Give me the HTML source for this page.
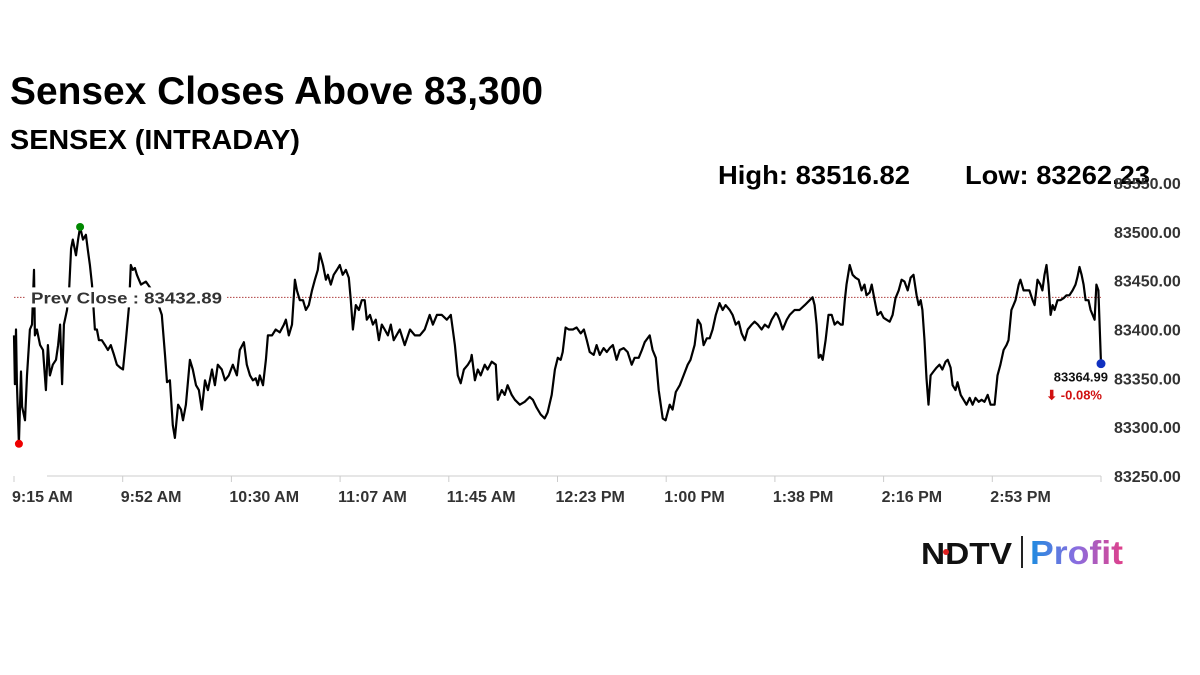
<!DOCTYPE html>
<html><head><meta charset="utf-8"><style>
body{margin:0;background:#fff;width:1200px;height:675px;overflow:hidden;font-family:"Liberation Sans",Arial,sans-serif}
svg{position:absolute;left:0;top:0}
</style></head><body>
<svg width="1200" height="675">
<defs><linearGradient id="pg" x1="0" x2="1"><stop offset="0" stop-color="#1e8ce0"/><stop offset="0.5" stop-color="#8a6de0"/><stop offset="1" stop-color="#e0408a"/></linearGradient></defs>
<text x="10" y="104" font-size="39" font-weight="bold" fill="#000" textLength="533" lengthAdjust="spacingAndGlyphs">Sensex Closes Above 83,300</text>
<text x="10" y="149" font-size="28" font-weight="bold" fill="#000" textLength="290" lengthAdjust="spacingAndGlyphs">SENSEX (INTRADAY)</text>
<text x="718" y="184" font-size="26" font-weight="bold" fill="#000" textLength="192" lengthAdjust="spacingAndGlyphs">High: 83516.82</text>
<text x="965" y="184" font-size="26" font-weight="bold" fill="#000" textLength="185" lengthAdjust="spacingAndGlyphs">Low: 83262.23</text>
<g id="axes"></g>
<g id="plot"></g>
<g>
<text x="921" y="564" font-size="31" font-weight="bold" fill="#111" textLength="91" lengthAdjust="spacingAndGlyphs">NDTV</text>
<circle cx="946" cy="552" r="3" fill="#e02020"/>
<line x1="1022" y1="536" x2="1022" y2="568" stroke="#222" stroke-width="2"/>
<text x="1030" y="564" font-size="33" font-weight="bold" fill="url(#pg)" textLength="93" lengthAdjust="spacingAndGlyphs">Profit</text>
</g>
</svg>
<script>
const tickLabels=["9:15 AM","9:52 AM","10:30 AM","11:07 AM","11:45 AM","12:23 PM","1:00 PM","1:38 PM","2:16 PM","2:53 PM"];
const yTicks=[83250,83300,83350,83400,83450,83500,83550];
const prevClose=83432.89;
const lastValue=83364.99;
const changePct="-0.08%";
const times=[0,0.3,0.7,1.0,1.7,2.4,2.8,3.8,4.5,5.5,6.2,6.9,7.2,7.9,9.0,10.0,11.0,11.7,12.4,13.4,14.5,15.2,15.9,16.6,17.2,18.3,19.0,19.7,20.3,21.4,22.1,22.8,23.8,24.8,25.5,26.2,26.9,27.9,28.6,29.3,30.3,31.4,32.4,33.4,34.5,35.5,36.6,37.6,38.6,39.7,40.3,41.0,41.7,42.4,43.1,43.8,45.5,47.6,49.3,51.0,52.1,52.8,53.8,54.8,55.5,56.6,57.6,58.3,59.3,60.7,61.7,62.8,63.8,64.8,65.9,66.9,68.3,69.3,70.3,71.7,72.8,74.1,75.5,76.9,77.9,79.3,80.3,81.4,82.4,83.4,84.1,84.8,85.9,86.9,87.6,89.0,90.3,91.7,93.1,93.8,94.8,95.9,96.9,97.6,98.6,99.7,100.7,101.7,102.8,103.8,104.8,105.5,106.6,107.6,108.3,109.3,110.3,111.4,112.4,113.4,114.5,115.5,116.2,116.9,117.9,119.0,120.0,121.0,121.7,122.8,123.8,124.8,125.9,126.9,127.9,129.0,130.0,131.0,133.1,134.8,136.6,138.3,140.0,141.7,143.4,144.5,145.9,147.6,149.3,150.7,152.1,153.1,154.1,155.2,156.6,157.6,157.9,159.0,160.0,161.0,162.4,163.4,164.8,166.2,166.9,168.3,169.3,170.3,171.7,172.8,174.5,176.2,177.9,179.0,180.3,181.7,183.1,184.1,185.5,186.6,187.6,188.6,189.3,190.3,191.4,192.8,194.1,195.5,196.6,197.6,198.6,200.0,201.0,202.1,203.4,204.5,205.5,206.6,207.9,209.0,210.3,211.7,213.1,214.1,215.5,216.6,217.6,219.3,220.3,221.4,222.4,223.8,224.8,226.2,227.2,228.3,229.7,231.0,232.4,233.4,234.8,235.9,236.9,237.9,239.0,240.0,241.0,242.1,243.4,244.5,245.5,246.9,247.9,249.0,250.0,251.0,252.1,253.1,254.5,255.5,256.6,257.9,259.0,260.3,261.4,262.8,263.4,264.1,265.2,266.6,267.6,269.3,271.0,272.8,274.5,275.5,276.2,276.9,277.6,278.3,279.0,280.0,281.0,282.1,283.1,284.1,285.2,285.9,286.6,287.2,288.3,289.3,290.3,291.4,292.4,293.4,294.1,295.2,295.9,296.9,297.9,299.0,300.0,301.0,302.1,303.1,304.1,305.2,306.2,307.2,308.3,309.3,310.3,311.4,312.1,312.8,313.4,314.1,314.8,315.5,316.2,317.2,318.3,319.3,320.3,321.4,322.1,323.1,323.8,324.8,325.5,326.6,327.6,328.6,329.7,330.7,331.7,332.8,333.8,334.8,335.9,336.9,338.3,339.3,340.3,341.4,342.4,343.1,344.1,344.8,345.5,346.6,347.2,348.3,349.3,350.3,351.4,352.1,353.1,354.1,354.8,355.5,356.2,356.9,357.6,358.3,359.0,360.0,361.0,362.1,363.1,364.1,365.2,366.2,366.9,367.6,368.3,369.0,369.7,370.7,371.4,372.8,373.4,374.1,375];
const values=[83394,83344,83400,83345,83283,83357,83321,83307,83353,83400,83405,83461,83394,83400,83384,83379,83338,83384,83353,83364,83369,83384,83405,83344,83405,83420,83440,83483,83492,83476,83492,83505,83492,83497,83481,83466,83446,83400,83400,83389,83389,83384,83379,83384,83374,83364,83361,83359,83389,83425,83466,83461,83463,83456,83451,83446,83449,83440,83430,83415,83374,83346,83348,83302,83289,83323,83318,83307,83323,83369,83359,83343,83338,83318,83348,83338,83359,83343,83364,83359,83348,83353,83364,83353,83379,83387,83364,83353,83348,83350,83343,83353,83343,83369,83394,83394,83400,83397,83405,83410,83394,83405,83451,83440,83430,83430,83420,83425,83440,83451,83461,83478,83466,83451,83456,83446,83456,83461,83466,83456,83461,83453,83430,83400,83425,83420,83430,83430,83410,83415,83405,83410,83389,83405,83400,83394,83405,83389,83400,83384,83400,83394,83394,83400,83415,83405,83415,83415,83410,83415,83384,83353,83345,83359,83364,83369,83374,83348,83359,83353,83364,83359,83367,83364,83328,83338,83333,83343,83333,83328,83323,83326,83331,83328,83320,83313,83309,83315,83333,83359,83371,83369,83377,83402,83400,83400,83402,83396,83400,83389,83377,83374,83384,83374,83381,83377,83381,83384,83369,83379,83381,83377,83364,83371,83371,83379,83387,83394,83379,83371,83338,83309,83307,83323,83318,83336,83343,83353,83364,83369,83384,83410,83405,83384,83391,83391,83400,83415,83427,83420,83425,83420,83415,83405,83408,83396,83389,83400,83405,83408,83405,83400,83405,83402,83410,83417,83415,83410,83400,83410,83415,83420,83420,83425,83430,83433,83425,83405,83371,83374,83369,83389,83415,83415,83405,83408,83405,83405,83430,83446,83466,83456,83453,83451,83440,83446,83435,83438,83446,83430,83415,83418,83412,83410,83408,83415,83432,83440,83451,83449,83440,83453,83456,83435,83425,83430,83420,83389,83350,83323,83353,83357,83361,83364,83359,83367,83369,83361,83343,83338,83346,83333,83328,83323,83330,83323,83330,83326,83328,83326,83333,83323,83323,83353,83364,83379,83384,83389,83420,83425,83430,83446,83451,83440,83440,83440,83430,83425,83451,83446,83440,83456,83466,83446,83415,83425,83420,83430,83430,83432,83435,83435,83440,83446,83454,83464,83456,83446,83430,83430,83420,83410,83446,83440,83365];

const NS="http://www.w3.org/2000/svg";
const X0=14,X1=1101,TMAX=375,Y0=476,Y1=183,VMIN=83250,VMAX=83550;
const xs=t=>X0+(t/TMAX)*(X1-X0);
const ys=v=>Y0-(v-VMIN)/(VMAX-VMIN)*(Y0-Y1);
function mk(tag,attrs,parent){const e=document.createElementNS(NS,tag);for(const k in attrs)e.setAttribute(k,attrs[k]);parent.appendChild(e);return e;}
const axes=document.getElementById('axes'),plot=document.getElementById('plot');

let ax=mk('line',{x1:47,y1:Y0,x2:X1,y2:Y0,stroke:'#ccc','stroke-width':1},axes);


for(let i=0;i<=10;i++){
  const t=i*37.5;
  const tk=mk('line',{x1:xs(t),y1:Y0,x2:xs(t),y2:Y0+6,stroke:'#ccc'},axes);
  
  
  if(i<tickLabels.length){
    const tx=mk('text',{x:xs(t)-2,y:502,'font-size':16,'font-weight':'bold',fill:'#333'},axes);
    tx.textContent=tickLabels[i];
    
    
  }
}
yTicks.forEach(v=>{
  const tx=mk('text',{x:1114,y:ys(v)+6,'font-size':16,'font-weight':'bold',fill:'#333'},axes);
  tx.textContent=v.toFixed(2);
  
  
});
const pc=mk('line',{x1:X0,y1:ys(prevClose),x2:X1,y2:ys(prevClose),stroke:'#b04040','stroke-width':1,'stroke-dasharray':'1.5,1.5'},plot);



let d='';
times.forEach((t,i)=>{d+=(i?'L':'M')+xs(t).toFixed(1)+','+ys(values[i]).toFixed(1);});
const ln=mk('path',{d:d,fill:'none',stroke:'#000','stroke-width':2.2,'stroke-linejoin':'round'},plot);



const lb=mk('rect',{x:25,y:ys(prevClose)-10,width:202,height:20,fill:'#fff'},plot);


const lt=mk('text',{x:31,y:ys(prevClose)+6,'font-size':16,'font-weight':'bold',fill:'#333',textLength:191,lengthAdjust:'spacingAndGlyphs'},plot);
lt.textContent='Prev Close : '+prevClose.toFixed(2);



let iMin=0,iMax=0;values.forEach((v,i)=>{if(v<values[iMin])iMin=i;if(v>values[iMax])iMax=i;});
const lo=mk('circle',{cx:xs(times[iMin]),cy:ys(values[iMin]),r:4,fill:'#e00'},plot);


const hi=mk('circle',{cx:xs(times[iMax]),cy:ys(values[iMax]),r:4,fill:'#080'},plot);


const li=values.length-1;
const ld=mk('circle',{cx:xs(times[li]),cy:ys(values[li]),r:4.5,fill:'#1030c0'},plot);


const lv=mk('text',{x:xs(times[li])+7,y:ys(values[li])+18,'font-size':13,'font-weight':'bold',fill:'#111','text-anchor':'end'},plot);
lv.textContent=lastValue.toFixed(2);


const lc=mk('text',{x:xs(times[li])+1,y:ys(values[li])+36,'font-size':13,'font-weight':'bold',fill:'#d01010','text-anchor':'end'},plot);
lc.textContent='\u2B07 '+changePct;


</script>
</body></html>
